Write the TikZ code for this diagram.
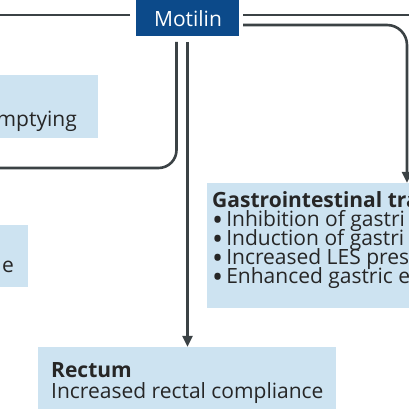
\documentclass[tikz,border=0pt]{standalone}
\usepackage{fontspec}
\setmainfont{Open Sans}[Ligatures={NoCommon,NoRare}]
\usetikzlibrary{arrows.meta}
\definecolor{darkblue}{HTML}{0C4A8A}
\definecolor{lightblue}{HTML}{CDE3F1}
\definecolor{linegray}{HTML}{3B4245}
\newcommand{\efffont}{\fontsize{21}{23}\selectfont}
\newcommand{\effbul}{\smash{\raisebox{-4.5pt}{\scalebox{1.4}{\textbullet}}}\hspace{3pt}}
\tikzset{
  conn/.style={draw=linegray, line width=2.6pt},
  arr/.style={conn, -{Triangle[length=11pt,width=10pt]}},
  topbox/.style={fill=darkblue, inner sep=0pt},
  effbox/.style={fill=lightblue, inner sep=0pt},
  efftext/.style={font=\efffont, inner sep=0pt, anchor=base west, text=black!85},
  effhead/.style={efftext, font=\bfseries\efffont},
}
\begin{document}
\begin{tikzpicture}[x=1pt,y=-1pt]
\useasboundingbox (0,0) rectangle (409,409);
\clip (0,0) rectangle (409,409);
\fill[white] (0,0) rectangle (409,409);
% boxes
\node[topbox, minimum width=103pt, minimum height=40pt] (mot) at (187.5,16) {};
\node[text=white, font=\efffont, inner sep=0pt, anchor=base] (motlbl) at (188,27) {Motilin};
\node[effbox, minimum width=110pt, minimum height=63pt] (stom) at (43,106.5) {};
\node[efftext, anchor=base east] (stomt) at (77,126) {mptying};
\node[effbox, minimum width=40pt, minimum height=62pt] (low) at (8,256) {};
\node[efftext, anchor=base east] (lowt) at (14,272) {e};
\node[effbox, minimum width=210pt, minimum height=125pt] (gi) at (312,245.5) {};
\node[effhead] (gih) at (212,207) {Gastrointestinal tra};
\node[efftext] (g1) at (212,226) {\effbul Inhibition of gastri};
\node[efftext] (g2) at (212,245) {\effbul Induction of gastri};
\node[efftext] (g3) at (212,264) {\effbul Increased LES pres};
\node[efftext] (g4) at (212,283) {\effbul Enhanced gastric e};
\node[effbox, minimum width=298pt, minimum height=66pt] (rect) at (186.5,380) {};
\node[effhead] (recth) at (51,377) {Rectum};
\node[efftext] (rectt) at (51,398) {Increased rectal compliance};
% connector coordinates
\coordinate (lA) at (130,15);
\coordinate (lB) at (0,15);
\coordinate (rA) at (243,15);
\coordinate (rB) at (409,15);
\coordinate (cA) at (243,25);
\coordinate (cC) at (407,25);
\coordinate (vA) at (176.5,42);
\coordinate (vC) at (176.5,168);
\coordinate (vD) at (0,168);
\coordinate (wA) at (187.5,42);
% connectors
\draw[conn] (lA) -- (lB);
\draw[conn] (rA) -- (rB);
\draw[arr, rounded corners=20pt] (cA) -- (cC) -- (cC |- gi.north);
\draw[conn, rounded corners=18pt] (vA) -- (vC) -- (vD);
\draw[arr] (wA) -- (wA |- rect.north);
\end{tikzpicture}
\end{document}
